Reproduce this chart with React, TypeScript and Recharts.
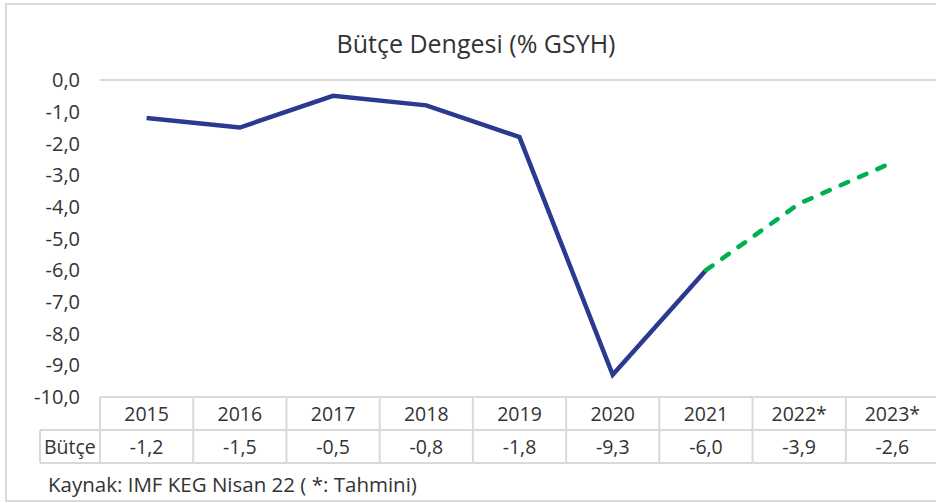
import React from 'react';
import { LineChart, Line, XAxis, YAxis, ReferenceLine } from 'recharts';

const years = ['2015', '2016', '2017', '2018', '2019', '2020', '2021', '2022*', '2023*'];
const butce = [-1.2, -1.5, -0.5, -0.8, -1.8, -9.3, -6.0, -3.9, -2.6];
const lastActual = 6; // 2021 son gerçekleşen yıl, sonrası tahmin
const yTicks = [0, -1, -2, -3, -4, -5, -6, -7, -8, -9, -10];

const data = years.map((year, i) => ({
  year,
  value: butce[i],
  actual: i <= lastActual ? butce[i] : null,
  forecast: i >= lastActual ? butce[i] : null,
}));

const CHART_W = 940;
const CHART_H = 503;
const PLOT_LEFT = 100;
const PLOT_RIGHT = 939;
const PLOT_TOP = 80;
const PLOT_BOTTOM = 397;
const ROW_H = 33;
const LABEL_LEFT = 40;
const Y_AXIS_W = 60;
const HALF = (PLOT_RIGHT - PLOT_LEFT) / years.length / 2;

const GRID = '#d9d9d9';
const TEXT = '#333333';
const FONT = '"Open Sans", sans-serif';
const TABLE_FS = 19.5;

const fmt = (v: number) => v.toFixed(1).replace('.', ',');

// x ekseni etiketleri yerine veri tablosu
const TableTick = (props: any) => {
  const { x, index, payload } = props;
  const y0 = PLOT_BOTTOM;
  const left = x - HALF;
  const right = x + HALF;
  const first = index === 0;
  const rowLeft = first ? LABEL_LEFT : left;
  const ln = { stroke: GRID, strokeWidth: 2 };
  const txt = { fill: TEXT, fontSize: TABLE_FS, fontFamily: FONT, dominantBaseline: 'central' as const };
  return (
    <g>
      <line x1={left} x2={right} y1={y0} y2={y0} {...ln} />
      <line x1={rowLeft} x2={right} y1={y0 + ROW_H} y2={y0 + ROW_H} {...ln} />
      <line x1={rowLeft} x2={right} y1={y0 + 2 * ROW_H} y2={y0 + 2 * ROW_H} {...ln} />
      <line x1={right} x2={right} y1={y0} y2={y0 + 2 * ROW_H} {...ln} />
      {first && (
        <>
          <line x1={left} x2={left} y1={y0} y2={y0 + 2 * ROW_H} {...ln} />
          <line x1={LABEL_LEFT} x2={LABEL_LEFT} y1={y0 + ROW_H} y2={y0 + 2 * ROW_H} {...ln} />
          <text x={LABEL_LEFT + 4} y={y0 + ROW_H * 1.5} {...txt}>
            Bütçe
          </text>
        </>
      )}
      <text x={x} y={y0 + ROW_H / 2} textAnchor="middle" {...txt}>
        {payload.value}
      </text>
      <text x={x} y={y0 + ROW_H * 1.5} textAnchor="middle" {...txt}>
        {fmt(data[index].value)}
      </text>
    </g>
  );
};

export default function App() {
  return (
    <div style={{ position: 'absolute', left: 0, top: 0, width: 936, height: 503, overflow: 'hidden', background: '#fff', fontFamily: FONT }}>
      <div style={{ position: 'absolute', left: 5, top: 3, width: 960, height: 495, border: `2px solid ${GRID}` }} />
      <div style={{ position: 'absolute', left: 0, top: 26, width: 952, textAlign: 'center', fontSize: 25, lineHeight: '34px', color: TEXT }}>
        Bütçe Dengesi (% GSYH)
      </div>
      <LineChart
        width={CHART_W}
        height={CHART_H}
        data={data}
        margin={{ top: PLOT_TOP, right: CHART_W - PLOT_RIGHT, left: PLOT_LEFT - Y_AXIS_W, bottom: CHART_H - PLOT_BOTTOM - 2 * ROW_H }}
        style={{ position: 'absolute', left: 0, top: 0 }}
      >
        <XAxis
          dataKey="year"
          interval={0}
          padding={{ left: HALF, right: HALF }}
          axisLine={false}
          tickLine={false}
          tickSize={0}
          height={2 * ROW_H}
          tick={<TableTick />}
        />
        <YAxis
          width={Y_AXIS_W}
          domain={[-10, 0]}
          ticks={yTicks}
          interval={0}
          tickFormatter={fmt}
          axisLine={false}
          tickLine={false}
          tickSize={0}
          tickMargin={20}
          tick={{ fill: TEXT, fontSize: 20, fontFamily: FONT }}
        />
        <ReferenceLine y={0} stroke={GRID} strokeWidth={2} />
        <Line
          type="linear"
          dataKey="actual"
          stroke="#2B3990"
          strokeWidth={4.5}
          dot={false}
          isAnimationActive={false}
        />
        <Line
          type="linear"
          dataKey="forecast"
          stroke="#00B050"
          strokeWidth={4.5}
          strokeDasharray="8 12"
          strokeLinecap="round"
          dot={false}
          isAnimationActive={false}
        />
      </LineChart>
      <div style={{ position: 'absolute', left: 48, top: 470, fontSize: 20.5, lineHeight: '28px', color: TEXT }}>
        Kaynak: IMF KEG Nisan 22 ( *: Tahmini)
      </div>
    </div>
  );
}
